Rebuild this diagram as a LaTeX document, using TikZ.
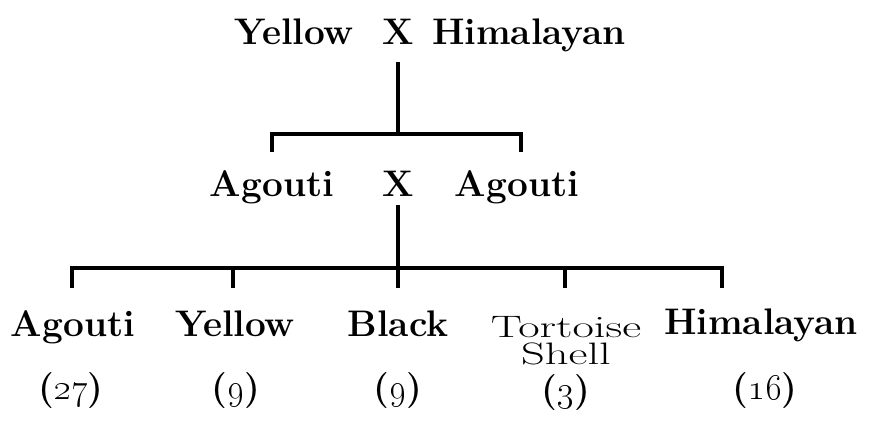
\documentclass[tikz,border=0pt]{standalone}
\usepackage{fix-cm}
\usetikzlibrary{positioning}

\begin{document}
\begin{tikzpicture}[x=1pt, y=-1pt,
    line width=3.2pt,
    lbl/.style={font=\fontsize{37}{40}\selectfont\bfseries, inner sep=0pt, anchor=base},
    cnt/.style={font=\fontsize{36}{38}\selectfont\bfseries, inner sep=0pt, anchor=base}]
  \useasboundingbox (0,0) rectangle (870,434);

  % parents
  \node[lbl] (cross1) at (398,44) {X};
  \node[lbl] (yellow) at (294,44) {Yellow};
  \node[lbl] (himal) at (529,44) {Himalayan};

  % first generation
  \node[lbl] (cross2) at (398,196) {X};
  \node[lbl] (agouti1) at (272,196) {Agouti};
  \node[lbl] (agouti2) at (517,196) {Agouti};

  % second generation
  \node[lbl] (agouti) at (73,336) {Agouti};
  \node[lbl] (yel) at (235,336) {Yellow};
  \node[lbl] (black) at (398,336) {Black};
  \node[lbl, font=\fontsize{31}{25}\selectfont, align=center] (tort) at (566,364)
    {\scalebox{1.5}[1]{Tortoise}\\[2pt]\scalebox{1.5}[1]{Shell}};
  \node[lbl] (him) at (761,334) {Himalayan};

  \node[cnt] (n1) at (71,399) {(\oldstylenums{27})};
  \node[cnt] (n2) at (236,399) {(\oldstylenums{9})};
  \node[cnt] (n3) at (398,399) {(\oldstylenums{9})};
  \node[cnt] (n4) at (566,401) {(\oldstylenums{3})};
  \node[cnt] (n5) at (765,399) {(\oldstylenums{16})};

  % bars
  \coordinate (top) at (398,62);
  \coordinate (barA) at (398,134);
  \coordinate (tA1) at (272,152);
  \coordinate (tA2) at (521,152);
  \coordinate (mid) at (398,205);
  \coordinate (barB) at (398,268);
  \coordinate (t1) at (72,288);
  \coordinate (t2) at (233,288);
  \coordinate (t3) at (398,288);
  \coordinate (t4) at (565,288);
  \coordinate (t5) at (722,288);

  \draw (top) -- (barA);
  \draw (tA1) |- (barA) -| (tA2);
  \draw (mid) -- (barB);
  \draw (t1) |- (barB) -| (t5);
  \draw (t2) -- (t2 |- barB);
  \draw (barB) -- (t3);
  \draw (t4) -- (t4 |- barB);
\end{tikzpicture}
\end{document}
